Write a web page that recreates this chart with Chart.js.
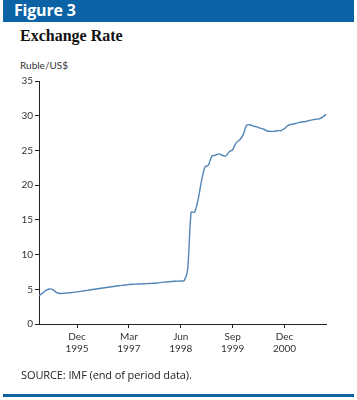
<!DOCTYPE html>
<html>
<head>
<meta charset="utf-8">
<script src="https://cdn.jsdelivr.net/npm/chart.js@4"></script>
<style>
  html, body { margin:0; padding:0; background:#fff; }
  #wrap { position:relative; width:357px; height:400px; overflow:hidden; }
  #banner { position:absolute; left:3px; top:0; width:351px; height:22px; background:#0b63a5; }
  #banner span { position:absolute; left:11px; top:0px; font:bold 16px "Open Sans", sans-serif; color:#fff; line-height:21px; letter-spacing:-0.2px; }
  #title { position:absolute; left:20px; top:26px; font:bold 16px "Liberation Serif", serif; color:#111; line-height:20px; }
  #unit { position:absolute; left:20px; top:58px; font:10px "Lato", sans-serif; color:#333; line-height:14px; }
  #source { position:absolute; left:21px; top:367px; font:11px "Open Sans", sans-serif; color:#222; line-height:15px; letter-spacing:-0.1px; }
  #rule { position:absolute; left:3px; top:394px; width:351px; height:3px; background:#0b63a5; }
  canvas { position:absolute; left:0; top:0; }
</style>
</head>
<body>
<div id="wrap">
  <div id="banner"><span>Figure 3</span></div>
  <div id="title">Exchange Rate</div>
  <div id="unit">Ruble/US$</div>
  <canvas id="c" width="357" height="400"></canvas>
  <div id="source">SOURCE: IMF (end of period data).</div>
  <div id="rule"></div>
</div>
<script>
// Monthly end-of-period values, Jan 1995 .. Dec 2001 (month index 0..83)
const y1995 = [4.10, 4.45, 4.85, 5.05, 4.95, 4.55, 4.40, 4.42, 4.47, 4.50, 4.55, 4.62];
const y1996 = [4.70, 4.78, 4.85, 4.93, 5.00, 5.08, 5.15, 5.23, 5.30, 5.37, 5.44, 5.50];
const y1997 = [5.56, 5.62, 5.68, 5.72, 5.75, 5.77, 5.79, 5.81, 5.83, 5.86, 5.90, 5.96];
const y1998 = [6.03, 6.07, 6.11, 6.15, 6.17, 6.20, 6.25, 7.90, 16.1, 16.1, 17.9, 20.6];
const y1999 = [22.6, 22.9, 24.2, 24.3, 24.5, 24.3, 24.2, 24.8, 25.1, 26.1, 26.5, 27.2];
const y2000 = [28.6, 28.7, 28.5, 28.4, 28.2, 28.05, 27.8, 27.75, 27.75, 27.85, 27.85, 28.15];
const y2001 = [28.6, 28.75, 28.85, 29.0, 29.1, 29.15, 29.3, 29.4, 29.5, 29.55, 29.8, 30.2];
const rates = [].concat(y1995, y1996, y1997, y1998, y1999, y2000, y2001);

const tickMonths = [11, 26, 41, 56, 71];
const tickLabels = [['Dec','1995'], ['Mar','1997'], ['Jun','1998'], ['Sep','1999'], ['Dec','2000']];
const yTicks = [0, 5, 10, 15, 20, 25, 30, 35];

const points = rates.map((v, i) => ({x: i, y: v}));

new Chart(document.getElementById('c'), {
  type: 'line',
  data: { datasets: [{
    data: points,
    borderColor: '#5285b8',
    borderWidth: 1.4,
    pointRadius: 0,
    tension: 0.25,
    fill: false
  }]},
  options: {
    responsive: false,
    animation: false,
    events: [],
    layout: { padding: { left: 0, right: 31, top: 81, bottom: 0 } },
    plugins: { legend: { display: false }, tooltip: { enabled: false } },
    scales: {
      x: {
        type: 'linear', min: 0, max: 83,
        afterBuildTicks: s => { s.ticks = tickMonths.map(v => ({value: v})); },
        afterFit: s => { s.height = 76; },
        ticks: {
          autoSkip: false, maxRotation: 0, padding: 3,
          color: '#333', font: { family: 'Lato', size: 10 }, lineHeight: 1.15,
          callback: (v) => { const k = tickMonths.indexOf(v); return k >= 0 ? tickLabels[k] : ''; }
        },
        grid: { drawOnChartArea: false, drawTicks: true, tickLength: 4, color: '#222', lineWidth: 1 },
        border: { display: true, color: '#222', width: 1 }
      },
      y: {
        min: 0, max: 35,
        afterBuildTicks: s => { s.ticks = yTicks.map(v => ({value: v})); },
        afterFit: s => { s.width = 39; },
        ticks: { padding: 2, color: '#333', font: { family: 'Lato', size: 10 } },
        grid: { drawOnChartArea: false, drawTicks: true, tickLength: 4, color: '#222', lineWidth: 1 },
        border: { display: true, color: '#222', width: 1 }
      }
    }
  }
});
</script>
</body>
</html>
